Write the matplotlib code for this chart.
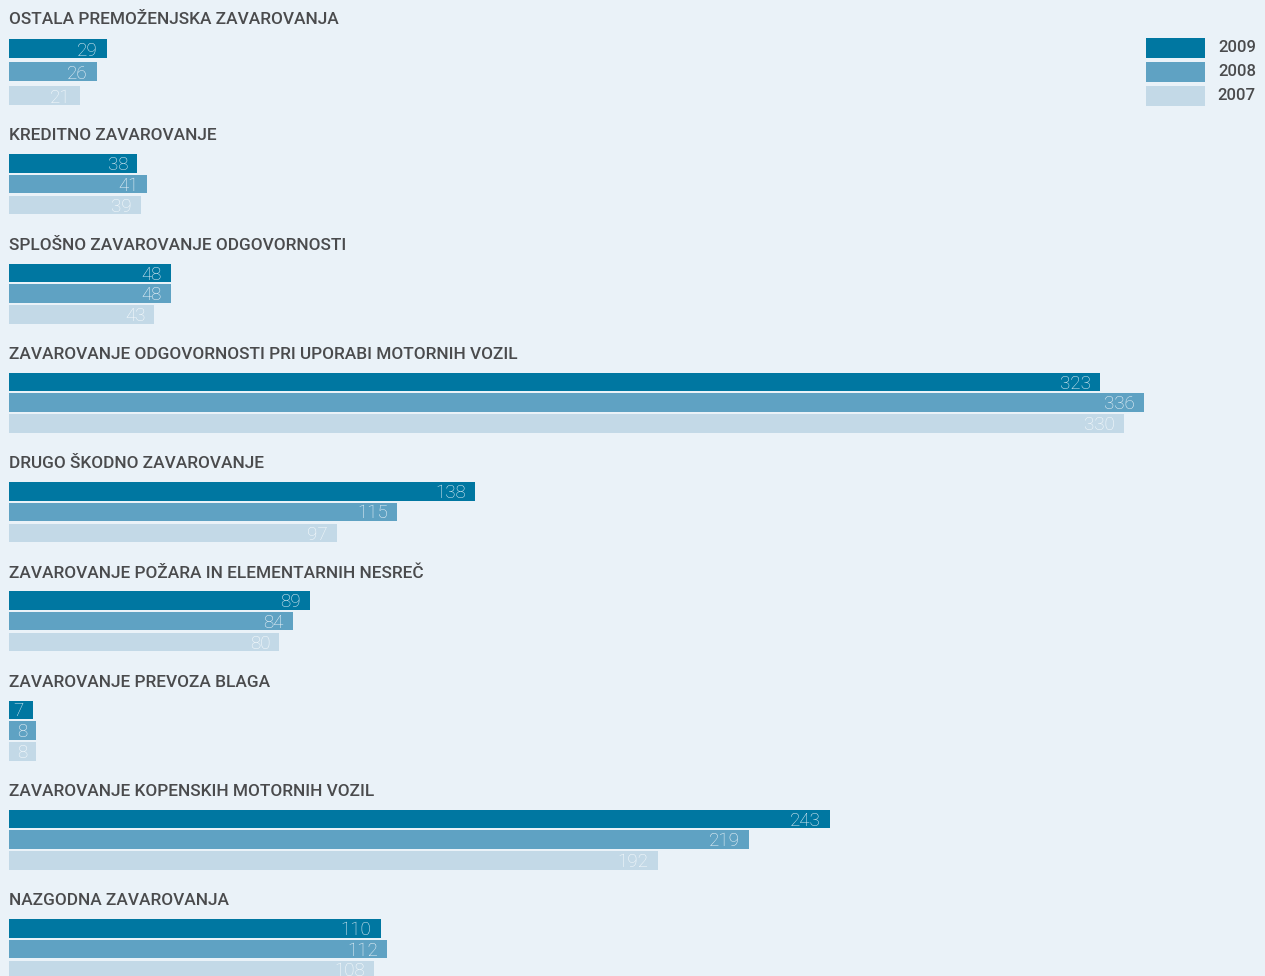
import matplotlib.pyplot as plt
from matplotlib.patches import Rectangle

categories = [
    "OSTALA PREMOŽENJSKA ZAVAROVANJA",
    "KREDITNO ZAVAROVANJE",
    "SPLOŠNO ZAVAROVANJE ODGOVORNOSTI",
    "ZAVAROVANJE ODGOVORNOSTI PRI UPORABI MOTORNIH VOZIL",
    "DRUGO ŠKODNO ZAVAROVANJE",
    "ZAVAROVANJE POŽARA IN ELEMENTARNIH NESREČ",
    "ZAVAROVANJE PREVOZA BLAGA",
    "ZAVAROVANJE KOPENSKIH MOTORNIH VOZIL",
    "NAZGODNA ZAVAROVANJA",
]
years = ["2009", "2008", "2007"]
v2009 = [29, 38, 48, 323, 138, 89, 7, 243, 110]
v2008 = [26, 41, 48, 336, 115, 84, 8, 219, 112]
v2007 = [21, 39, 43, 330, 97, 80, 8, 192, 108]

BG = "#eaf2f8"
COLORS = ["#0077a1", "#5fa2c3", "#c3d9e7"]
LABEL_COLORS = ["#e0eef5", "#eef5fa", "#f7fbfd"]
TITLE_COLOR = "#4a4b4d"

W, H = 1265, 976
px_per_unit = 1135 / 336
x0_px = 9

fig = plt.figure(figsize=(W / 100, H / 100), dpi=100, facecolor=BG)
ax = fig.add_axes([0, 0, 1, 1])
ax.set_facecolor(BG)
ax.set_xlim(-x0_px / px_per_unit, (W - x0_px) / px_per_unit)
ax.set_ylim(H, 0)
ax.axis("off")

# vertical layout in pixels (top of each group title)
tops = [19] + [136 + 109.25 * i for i in range(8)]
series = [v2009, v2008, v2007]

for g, (cat, top) in enumerate(zip(categories, tops)):
    if g == 0:
        offsets, bh = (29.5, 52.5, 76.5), 19.5
    else:
        offsets, bh = (27.5, 48.0, 69.0), 18.5
    ax.text(0, top, cat, fontsize=12.4, family="Roboto", fontweight="medium",
            color=TITLE_COLOR, ha="left", va="center")
    for s, vals in enumerate(series):
        yc = top + offsets[s]
        ax.barh(yc, vals[g], height=bh, left=0, color=COLORS[s], linewidth=0)
        ax.annotate(str(vals[g]), xy=(vals[g], yc + bh / 2), xytext=(-6.5, 1.8),
                    textcoords="offset points", ha="right", va="baseline",
                    fontsize=13.5, family="Roboto", fontweight="light",
                    color=LABEL_COLORS[s], annotation_clip=False)

# legend, top right
lg_x0, lg_w = 1146, 59
lg_y = [38, 62, 86]
for s, yr in enumerate(years):
    ax.add_patch(Rectangle(((lg_x0 - x0_px) / px_per_unit, lg_y[s]),
                           lg_w / px_per_unit, 19.5, facecolor=COLORS[s],
                           linewidth=0, clip_on=False))
    ax.text((1256 - x0_px) / px_per_unit, lg_y[s] + 9.75, yr, fontsize=12,
            family="Roboto", fontweight="medium", color=TITLE_COLOR,
            ha="right", va="center")

fig.savefig("out.png", dpi=100, facecolor=BG)
